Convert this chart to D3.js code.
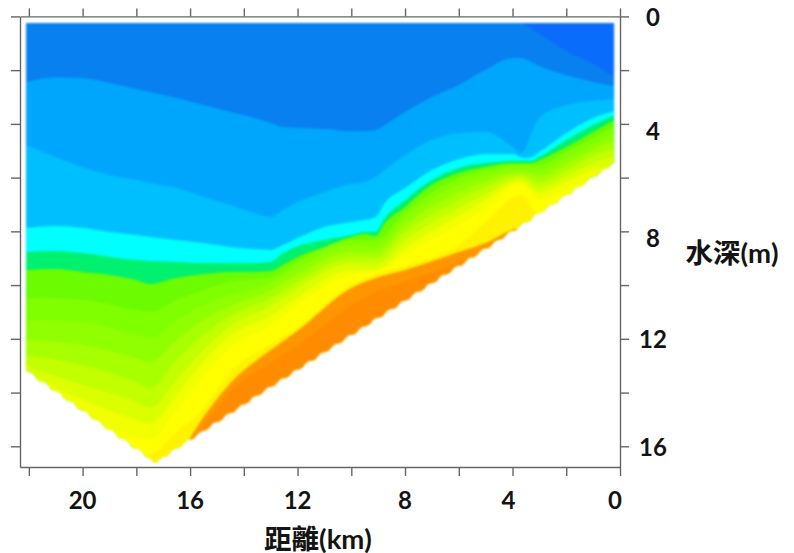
<!DOCTYPE html>
<html><head><meta charset="utf-8">
<script src="https://cdnjs.cloudflare.com/ajax/libs/d3/7.8.5/d3.min.js"></script>
<style>html,body{margin:0;padding:0;background:#fff}svg{display:block}</style>
</head><body><svg id="c" width="794" height="553"></svg>
<script>
// distance (km) nodes of the upper isolines
const upperKm=[22.1,21,20,19,18,17.5,16.5,15.5,14.5,13.6,13,12.55,12,11,10,9.5,9.1,8.75,8,7,6,5,4,3.7,3.55,3.3,3,2,1,0.2];
const line1=[0,0,0,0,0,0,0,0,0,0,0,0,0,0,0,0,0,0,0,0,0,0,0,0.25,0.32,0.47,0.65,1.29,1.77,2.26];
const line2=[2.44,2.26,2.29,2.48,2.70,2.81,3.04,3.30,3.56,3.78,3.97,4.12,4.15,4.19,4.27,4.27,4.23,4.04,3.56,3.00,2.55,1.99,1.55,1.55,1.59,1.70,1.85,2.18,2.44,2.59];
const line3=[4.79,5.23,5.61,5.90,6.09,6.20,6.39,6.72,7.02,7.32,7.47,7.21,6.91,6.54,6.24,6.16,5.98,5.72,5.16,4.60,4.34,4.30,4.86,5.08,4.97,4.34,3.78,3.30,3.15,3.07];
const line4=[7.87,7.80,7.87,8.02,8.14,8.21,8.32,8.43,8.58,8.66,8.69,8.51,8.25,7.84,7.65,7.58,7.47,6.94,6.39,5.72,5.31,5.12,5.12,5.23,5.27,5.23,5.05,4.34,3.78,3.52];
const line5=[8.77,8.73,8.81,8.95,9.07,9.10,9.14,9.18,9.18,9.18,9.14,8.81,8.55,8.32,8.14,8.02,8.02,7.50,6.83,6.09,5.64,5.46,5.38,5.38,5.38,5.38,5.23,4.60,4.04,3.67];
const line6=[9.44,9.40,9.51,9.62,9.81,9.96,9.74,9.59,9.51,9.51,9.48,9.25,8.95,8.58,8.21,8.10,8.17,7.69,7.09,6.27,5.83,5.60,5.46,5.46,5.46,5.46,5.34,4.86,4.30,3.86];
// distance (km) nodes of the lower isolines
const lowerKm=[22.1,20,18,17.5,16.5,15.5,14.5,13,12,10,9.1,8,6,5,3.7,3,2,1,0.2];
const line7=[10.48,10.55,10.93,11.00,10.55,10.18,9.88,9.70,9.14,8.32,8.32,7.28,6.01,5.72,5.53,5.53,5.05,4.53,4.08];
const line8=[11.30,11.37,11.86,11.97,11.30,10.74,10.37,9.92,9.36,8.51,8.55,7.50,6.24,5.90,5.64,5.72,5.27,4.75,4.34];
const line9=[12.04,12.23,12.71,12.86,12.04,11.30,10.78,10.18,9.62,8.77,8.77,7.76,6.54,6.13,5.79,5.94,5.49,4.97,4.60];
const line10=[12.60,12.97,13.61,13.83,12.79,11.86,11.15,10.48,9.88,8.99,8.99,8.02,6.83,6.35,5.90,6.16,5.72,5.20,4.90];
const line11=[13.01,13.72,14.35,14.57,13.53,12.42,11.52,10.78,10.11,9.21,9.21,8.32,7.13,6.61,6.01,6.39,5.94,5.46,5.20];
const line12=[13.23,14.28,15.02,15.17,14.09,12.86,11.89,11.15,10.48,9.44,9.44,8.62,7.43,6.83,6.13,6.57,6.16,5.72,5.53];
const line13=[13.53,14.83,15.69,15.76,14.65,13.42,12.30,11.52,10.74,9.62,9.51,8.88,7.76,7.13,6.24,6.83,6.46,6.01,5.72];
const line14=[14.28,15.76,16.36,16.32,15.47,14.57,13.23,12.19,11.60,9.96,9.59,9.29,8.51,7.65,6.65,7.39,7.02,6.46,6.09];
const line15=[18,18,18,18,16.5,14.91,13.64,12.42,11.70,10.11,9.74,9.44,8.77,8.43,7.88,8.0,7.2,6.7,6.0];
const line16=[18,18,18,18,16.6,15.21,13.98,12.86,12.23,10.74,10.26,9.88,9.14,8.77,8.2,8.3,7.4,6.9,6.1];
// sea-bed outline
const bedKm=[22.1,22,21.5,21,20.5,20,19.5,19,18.5,18,17.5,17.3,17,16.5,16,15.5,15,14.5,14,13.5,13,12.5,12,11.5,11,10.5,10,9.5,9,8.5,8,7.5,7,6.5,6,5.5,5,4.5,4,3.5,3,2.5,2,1.5,1,0.5,0.22];
const bedDepth=[13.16,13.23,13.59,13.94,14.30,14.66,15.01,15.37,15.73,16.08,16.44,16.6,16.40,16.07,15.75,15.42,15.09,14.76,14.43,14.10,13.78,13.46,13.14,12.82,12.49,12.17,11.85,11.53,11.21,10.89,10.57,10.24,9.92,9.60,9.28,8.96,8.64,8.31,7.99,7.66,7.32,6.99,6.65,6.32,5.98,5.65,5.46];
const surfaceDepth=0.25;
// band colours, shallowest first
const baseColor="#0a6cfa";
const bandColors=["#0880f0","#00a6fc","#00bfff","#00ffff","#00f070","#6cfb00","#80ff00","#90ff00","#a8ff00","#c2ff00","#dcff00","#f2ff00","#ffff00","#fff200","#ff9600","#ff8c00"];
const upperLines=[line1,line2,line3,line4,line5,line6];
const lowerLines=[line7,line8,line9,line10,line11,line12,line13,line14,line15,line16];
// axes
const kmTicks=[22,20,18,16,14,12,10,8,6,4,2,0];
const depthTicks=[0,2,4,6,8,10,12,14,16];
const kmLabels=[20,16,12,8,4,0];
const depthLabels=[0,4,8,12,16];
const xTitle="距離(km)", yTitle="水深(m)";

const svg=d3.select("#c");
const x=d3.scaleLinear().domain([22.33,0]).range([20,620]);
const y=d3.scaleLinear().domain([0,16.77]).range([16.4,467]);

const defs=svg.append("defs");
const blur=defs.append("filter").attr("id","soft").attr("color-interpolation-filters","sRGB").attr("x","-2%").attr("y","-2%").attr("width","104%").attr("height","104%");
blur.append("feGaussianBlur").attr("stdDeviation",0.9);
const bedArea=d3.area().curve(d3.curveBumpX).x((d,i)=>x(bedKm[i])).y0(y(surfaceDepth)).y1(d=>y(d));
defs.append("clipPath").attr("id","bed").append("path").attr("d",bedArea(bedDepth));

const field=svg.append("g").attr("filter","url(#soft)").append("g").attr("clip-path","url(#bed)");
field.append("rect").attr("x",x(22.33)).attr("y",y(0)).attr("width",x(0)-x(22.33)).attr("height",y(16.77)-y(0)).attr("fill",baseColor);
const band=(km,vals,color)=>{
  const a=d3.area().curve(d3.curveMonotoneX).x((d,i)=>x(km[i])).y0(d=>y(d)).y1(y(18));
  field.append("path").attr("d",a(vals)).attr("fill",color);
};
upperLines.forEach((l,i)=>band(upperKm,l,bandColors[i]));
lowerLines.forEach((l,i)=>band(lowerKm,l,bandColors[i+upperLines.length]));

// frame and ticks
const stroke="#666";
const fmt=()=>"";
const ax=[
 d3.axisTop(x).tickValues(kmTicks).tickFormat(fmt).tickSize(8).tickSizeOuter(0),
 d3.axisBottom(x).tickValues(kmTicks).tickFormat(fmt).tickSize(9).tickSizeOuter(0),
 d3.axisLeft(y).tickValues(depthTicks).tickFormat(fmt).tickSize(9).tickSizeOuter(0),
 d3.axisRight(y).tickValues(depthTicks).tickFormat(fmt).tickSize(9).tickSizeOuter(0)
];
const pos=[[0,16.4],[0,467],[20,0],[620,0]];
ax.forEach((a,i)=>{
  const g=svg.append("g").attr("transform",`translate(${pos[i][0]},${pos[i][1]})`).call(a);
  g.selectAll("line,path").attr("stroke",stroke).attr("stroke-width",1.4);
});

const font="Lato,'Noto Sans CJK TC',sans-serif";
const txt=(sel,xx,yy,s,size,anchor)=>sel.append("text").attr("x",xx).attr("y",yy).attr("text-anchor",anchor||"middle").attr("dominant-baseline","central")
  .attr("font-family",font).attr("font-weight",700).attr("font-size",size).attr("fill","#141414").text(s);
const xLabelNudge={4:-4,0:-5};
kmLabels.forEach(k=>txt(svg,x(k)+(xLabelNudge[k]||0),499,k,24));
const yLabelNudge={0:0,4:7,8:6,12:0,16:0};
depthLabels.forEach(d=>txt(svg,653,y(d)+(yLabelNudge[d]||0),d,24));
txt(svg,318,538,xTitle,27.5);
txt(svg,732,252,yTitle,27.5);
</script></body></html>
